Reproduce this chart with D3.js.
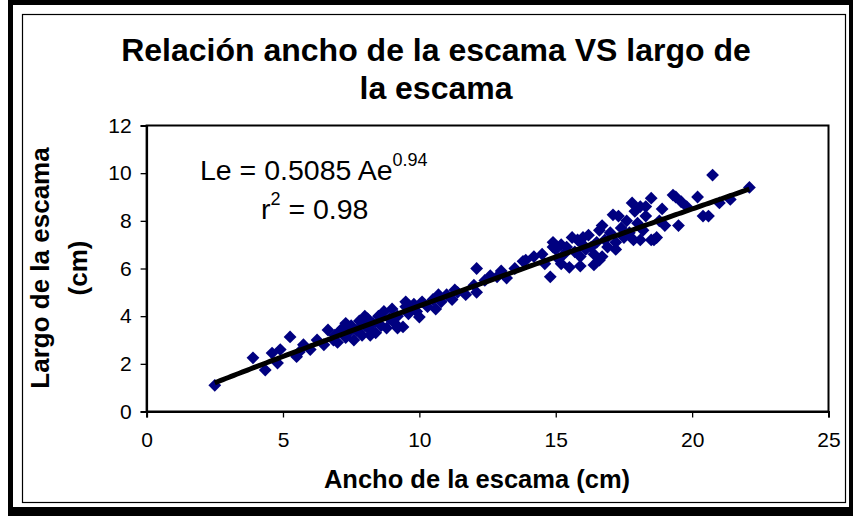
<!DOCTYPE html>
<html><head><meta charset="utf-8">
<script src="https://cdn.jsdelivr.net/npm/d3@7"></script>
<style>html,body{margin:0;padding:0;background:#fff;}svg{display:block;font-family:"Liberation Sans",Arial,sans-serif;}</style>
</head><body>
<script>
const titleLines = ["Relación ancho de la escama VS largo de", "la escama"];
const xLabel = "Ancho de la escama (cm)";
const yLabelLines = ["Largo de la escama", "(cm)"];
const xTicks = [0, 5, 10, 15, 20, 25];
const yTicks = [0, 2, 4, 6, 8, 10, 12];
const fitA = 0.5085, fitB = 0.94;
const fitRange = [2.5, 22.1];
const anchoX = [2.5,3.9,4.35,4.6,4.8,4.9,5.26,5.5,5.75,5.6,6.0,6.25,6.5,6.65,6.85,6.9,7.0,7.1,7.2,7.3,7.3,7.4,7.5,7.6,7.7,7.8,7.9,8.0,8.0,8.1,8.2,8.2,8.3,8.4,8.5,8.6,8.7,8.8,8.9,9.0,9.1,9.2,9.2,9.4,9.5,9.5,9.6,9.8,9.9,10.0,10.1,10.3,10.5,10.6,10.7,10.8,11.0,11.2,11.3,11.4,11.7,12.0,12.1,12.1,12.4,12.6,12.85,13.0,13.2,13.5,13.8,13.9,14.2,14.5,14.6,14.8,14.9,15.0,15.1,15.2,15.3,15.4,15.5,15.6,15.7,15.8,15.9,16.0,16.1,16.2,16.3,16.4,16.5,16.6,16.6,16.7,16.7,16.8,16.9,17.0,17.1,17.2,17.3,17.4,17.5,17.6,17.7,17.8,17.85,17.9,18.0,18.1,18.1,18.2,18.3,18.3,18.5,18.5,18.6,18.7,18.8,18.9,19.0,19.3,19.4,19.5,19.6,19.8,20.2,20.4,20.6,20.75,21.0,21.4,22.1,15.2,15.9,16.4,17.2,16.0,14.9];
const largoY = [1.1,2.25,1.74,2.45,2.03,2.6,3.13,2.3,2.8,2.5,2.6,3.0,2.8,3.42,3.0,3.2,2.9,3.4,3.5,3.1,3.7,3.3,3.6,3.0,3.4,3.8,3.2,3.6,4.0,3.9,3.4,3.2,3.7,3.3,4.0,3.6,4.2,3.5,3.9,4.3,3.7,4.0,3.5,3.55,4.4,4.6,4.1,4.5,4.2,3.96,4.6,4.4,4.7,4.3,4.9,4.6,4.9,4.7,5.1,5.0,4.9,5.3,6.0,5.0,5.5,5.7,5.65,5.9,5.6,6.0,6.3,6.35,6.5,6.6,6.2,5.65,7.1,6.8,6.4,7.0,6.6,6.9,6.05,7.3,6.7,7.2,6.5,7.0,6.8,7.4,6.9,6.15,7.1,7.6,6.35,6.5,7.8,7.2,6.9,7.5,8.25,7.1,8.2,7.7,7.3,8.0,7.5,8.75,7.2,8.4,7.9,8.6,7.2,7.6,8.2,8.6,8.95,7.2,7.2,7.3,8.0,8.5,7.8,9.08,9.0,7.8,8.8,8.6,9.0,8.2,8.2,9.92,8.75,8.9,9.4,6.2,6.1,6.6,6.8,7.3,6.9];
const eqText = {main: "Le = 0.5085 Ae", exp: "0.94", r: "r", r2: "2", rv: " = 0.98"};

const W = 853, H = 516;
const FONT = "Liberation Sans, Arial, sans-serif";
const svg = d3.select("body").append("svg").attr("width", W).attr("height", H);
// outer frames
svg.append("rect").attr("x", 8).attr("y", 0).attr("width", W - 8).attr("height", H).attr("fill", "#000");
svg.append("rect").attr("x", 13).attr("y", 5).attr("width", 836).attr("height", 502).attr("fill", "#fff");
svg.append("rect").attr("x", 22.5).attr("y", 14.5).attr("width", 823).attr("height", 488).attr("fill", "none").attr("stroke", "#000").attr("stroke-width", 1.2);

const x = d3.scaleLinear().domain([0, 25]).range([146.6, 828.5]);
const y = d3.scaleLinear().domain([0, 12]).range([411.5, 125.5]);

// plot frame
svg.append("rect").attr("x", x(0)).attr("y", y(12)).attr("width", x(25) - x(0)).attr("height", y(0) - y(12))
  .attr("fill", "none").attr("stroke", "#000").attr("stroke-width", 2);

const gx = svg.append("g").attr("transform", `translate(0,${y(0)})`)
  .call(d3.axisBottom(x).tickValues(xTicks).tickSize(6).tickPadding(15).tickFormat(d3.format("d")));
const gy = svg.append("g").attr("transform", `translate(${x(0)},0)`)
  .call(d3.axisLeft(y).tickValues(yTicks).tickSize(6).tickPadding(9).tickFormat(d3.format("d")));
[gx, gy].forEach(g => {
  g.select(".domain").attr("stroke", "#000").attr("stroke-width", 2);
  g.selectAll(".tick line").attr("stroke", "#000").attr("stroke-width", 1.3);
  g.selectAll(".tick text").attr("fill", "#000").style("font-size", "21px").style("font-family", FONT);
});

// points
const pts = anchoX.map((v, i) => [v, largoY[i]]);
const sym = d3.symbol().type(d3.symbolSquare).size(82);
svg.append("g").selectAll("path").data(pts).join("path")
  .attr("d", sym)
  .attr("transform", d => `translate(${x(d[0])},${y(d[1])}) rotate(45)`)
  .attr("fill", "#000080");

// trend line (power fit)
const fitPts = d3.range(fitRange[0], fitRange[1] + 0.001, 0.1).map(a => [a, fitA * Math.pow(a, fitB)]);
svg.append("path").datum(fitPts)
  .attr("d", d3.line().x(d => x(d[0])).y(d => y(d[1])))
  .attr("fill", "none").attr("stroke", "#000").attr("stroke-width", 5);

// title
svg.append("g").selectAll("text").data(titleLines).join("text")
  .attr("x", 436).attr("y", (d, i) => 61 + i * 38)
  .attr("text-anchor", "middle").style("font-size", "32px").style("font-weight", "bold").text(d => d);

// axis labels
svg.append("text").attr("x", 477).attr("y", 488).attr("text-anchor", "middle")
  .style("font-size", "25.5px").style("font-weight", "bold").text(xLabel);
svg.append("g").selectAll("text").data(yLabelLines).join("text")
  .attr("transform", (d, i) => `translate(${49 + i * 38},268) rotate(-90)`)
  .attr("text-anchor", "middle").style("font-size", "26px").style("font-weight", "bold").text(d => d);

// equation
const eq = svg.append("text").attr("x", 200).attr("y", 180).style("font-size", "28.5px");
eq.append("tspan").text(eqText.main);
eq.append("tspan").attr("dy", -14).style("font-size", "18px").text(eqText.exp);
const r2 = svg.append("text").attr("x", 261).attr("y", 219).style("font-size", "28.5px");
r2.append("tspan").text(eqText.r);
r2.append("tspan").attr("dy", -14).style("font-size", "18px").text(eqText.r2);
r2.append("tspan").attr("dy", 14).text(eqText.rv);
</script>
</body></html>
